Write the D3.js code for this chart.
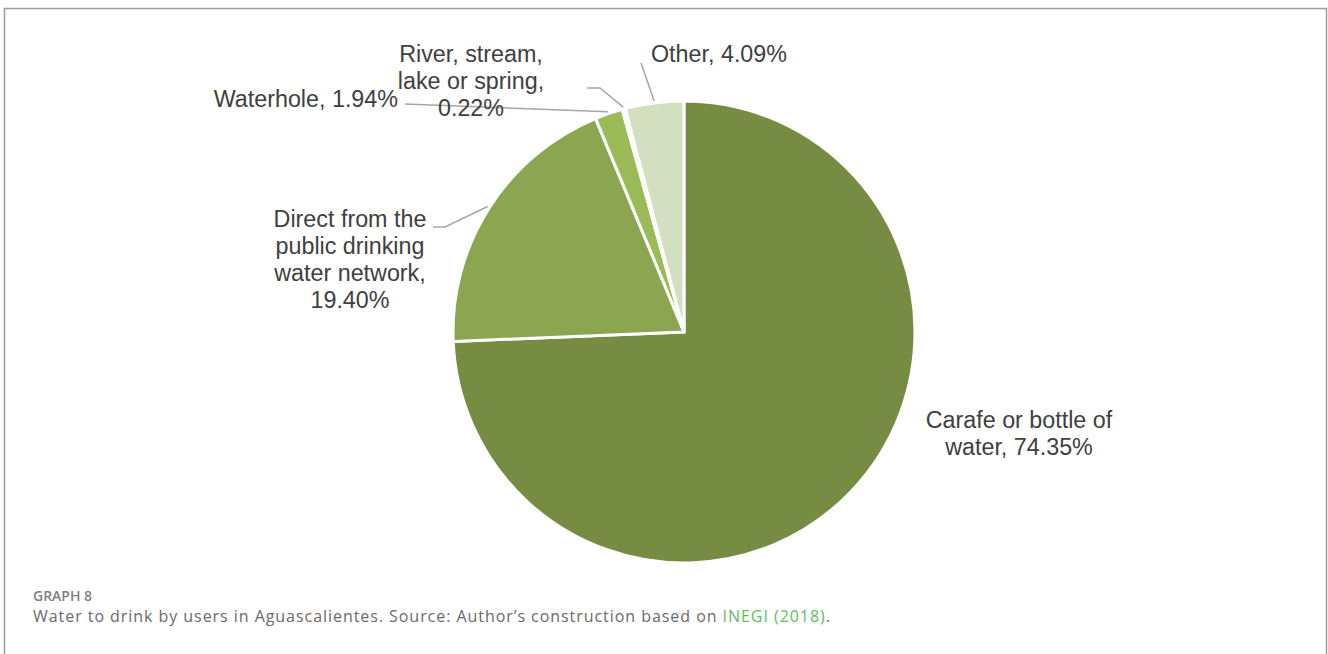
<!DOCTYPE html>
<html>
<head>
<meta charset="utf-8">
<script src="https://cdn.jsdelivr.net/npm/d3@7"></script>
<style>
  body { margin: 0; background: #fff; }
  svg { display: block; }
</style>
</head>
<body>
<svg id="chart" width="1328" height="654"></svg>
<script>
// data (percent of users)
var categories = ["Carafe or bottle of water", "Direct from the public drinking water network",
                  "Waterhole", "River, stream, lake or spring", "Other"];
var shares = [74.35, 19.40, 1.94, 0.22, 4.09];
var labelLines = [
  ["Carafe or bottle of", "water, 74.35%"],
  ["Direct from the", "public drinking", "water network,", "19.40%"],
  ["Waterhole, 1.94%"],
  ["River, stream,", "lake or spring,", "0.22%"],
  ["Other, 4.09%"]
];
var sliceColors = ["#758c42", "#8ba550", "#9bbb59", "#b5cc8e", "#d2dfc0"];

// label placement (layout only)
var labelPos = [
  {x: 1019, y: 428, anchor: "middle", leader: null},
  {x: 350,  y: 227, anchor: "middle", leader: [[433, 227], [445, 227]]},
  {x: 398,  y: 107, anchor: "end",    leader: [[405, 104]]},
  {x: 471,  y: 62,  anchor: "middle", leader: [[587, 88], [600, 88]]},
  {x: 651,  y: 62,  anchor: "start",  leader: [[641, 63]]}
];

var svg = d3.select("#chart");
var cx = 684, cy = 332, radius = 231;

// outer frame
svg.append("path")
   .attr("d", "M4.5,660 L4.5,8.5 L1326.5,8.5 L1326.5,660")
   .attr("fill", "none").attr("stroke", "#9a9a9a").attr("stroke-width", 1.5);

var pie = d3.pie().sort(null).value(function(d){ return d; });
var arcs = pie(shares);
var arc = d3.arc().innerRadius(0).outerRadius(radius);

var g = svg.append("g").attr("transform", "translate(" + cx + "," + cy + ")");
g.selectAll("path.slice")
  .data(arcs)
  .enter().append("path")
  .attr("class", "slice")
  .attr("d", arc)
  .attr("fill", function(d, i){ return sliceColors[i]; })
  .attr("stroke", "#fff")
  .attr("stroke-width", 3)
  .attr("stroke-linejoin", "round");

// leader lines: from label to the slice's mid-angle just outside the rim
var line = d3.line();
arcs.forEach(function(a, i){
  var p = labelPos[i];
  if (!p.leader) return;
  var mid = (a.startAngle + a.endAngle) / 2;
  var end = [cx + (radius + 2) * Math.sin(mid), cy - (radius + 2) * Math.cos(mid)];
  svg.append("path")
     .attr("d", line(p.leader.concat([end])))
     .attr("fill", "none").attr("stroke", "#a6a6a6").attr("stroke-width", 1.5);
});

// labels
labelLines.forEach(function(lines, i){
  var p = labelPos[i];
  var t = svg.append("text")
     .attr("x", p.x).attr("y", p.y)
     .attr("text-anchor", p.anchor)
     .attr("font-family", "'Liberation Sans', Arial, sans-serif")
     .attr("font-size", "23.3px")
     .attr("fill", "#404040");
  lines.forEach(function(s, k){
    t.append("tspan").attr("x", p.x).attr("dy", k === 0 ? 0 : 27).text(s);
  });
});

// caption
svg.append("text")
   .attr("x", 33).attr("y", 601)
   .attr("font-family", "'Open Sans', sans-serif")
   .attr("font-size", "14px").attr("font-weight", 600)
   .attr("fill", "#808080")
   .text("GRAPH 8");
var cap = svg.append("text")
   .attr("x", 33).attr("y", 622)
   .attr("font-family", "'Open Sans', sans-serif")
   .attr("font-size", "16px")
   .attr("letter-spacing", "0.95px")
   .attr("fill", "#6a6a6a");
cap.append("tspan").text("Water to drink by users in Aguascalientes. Source: Author\u2019s construction based on ");
cap.append("tspan").attr("fill", "#5cc15c").text("INEGI (2018)");
cap.append("tspan").text(".");
</script>
</body>
</html>
